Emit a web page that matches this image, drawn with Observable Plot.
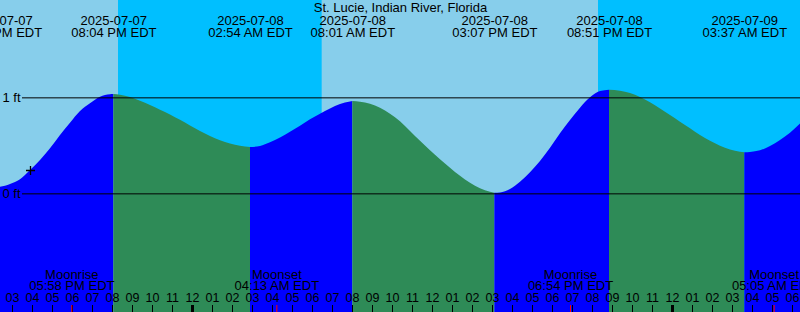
<!DOCTYPE html>
<html><head><meta charset="utf-8">
<script src="https://cdn.jsdelivr.net/npm/d3@7"></script>
<script src="https://cdn.jsdelivr.net/npm/@observablehq/plot@0.6"></script>
<style>html,body{margin:0;padding:0;background:#fff;overflow:hidden} #chart svg{display:block}</style>
</head><body><div id="chart"></div>
<script>
// ---- data (times are local EDT, stored without offset) ----
const title = "St. Lucie, Indian River, Florida";
const domainStart = "2025-07-07T14:24";
const domainEnd = "2025-07-09T06:24";

const sampleTimes = [
 "2025-07-07T14:24","2025-07-07T14:54","2025-07-07T15:24","2025-07-07T15:54","2025-07-07T16:24","2025-07-07T16:54",
 "2025-07-07T17:24","2025-07-07T17:54","2025-07-07T18:24","2025-07-07T18:54","2025-07-07T19:24","2025-07-07T19:54",
 "2025-07-07T20:24","2025-07-07T20:54","2025-07-07T21:24","2025-07-07T21:54","2025-07-07T22:24","2025-07-07T22:54",
 "2025-07-07T23:24","2025-07-07T23:54","2025-07-08T00:24","2025-07-08T00:54","2025-07-08T01:24","2025-07-08T01:54",
 "2025-07-08T02:24","2025-07-08T03:24","2025-07-08T03:54","2025-07-08T04:24","2025-07-08T04:54","2025-07-08T05:24",
 "2025-07-08T05:54","2025-07-08T06:24","2025-07-08T06:54","2025-07-08T07:24","2025-07-08T07:54","2025-07-08T08:24",
 "2025-07-08T08:54","2025-07-08T09:24","2025-07-08T09:54","2025-07-08T10:24","2025-07-08T10:54","2025-07-08T11:24",
 "2025-07-08T11:54","2025-07-08T12:24","2025-07-08T12:54","2025-07-08T13:24","2025-07-08T13:54","2025-07-08T14:24",
 "2025-07-08T14:54","2025-07-08T15:24","2025-07-08T15:54","2025-07-08T16:24","2025-07-08T16:54","2025-07-08T17:24",
 "2025-07-08T17:54","2025-07-08T18:24","2025-07-08T18:54","2025-07-08T19:24","2025-07-08T19:54","2025-07-08T20:24",
 "2025-07-08T21:24","2025-07-08T21:54","2025-07-08T22:24","2025-07-08T22:54","2025-07-08T23:24","2025-07-08T23:54",
 "2025-07-09T00:24","2025-07-09T00:54","2025-07-09T01:24","2025-07-09T01:54","2025-07-09T02:24","2025-07-09T02:54",
 "2025-07-09T03:24","2025-07-09T03:54","2025-07-09T04:24","2025-07-09T04:54","2025-07-09T05:24","2025-07-09T05:54",
 "2025-07-09T06:24"
];
const sampleFeet = [
 0.069,0.097,0.146,0.243,0.347,0.469,
 0.607,0.735,0.857,0.938,1.006,1.031,
 1.027,1.003,0.965,0.920,0.872,0.822,
 0.766,0.708,0.650,0.598,0.554,0.520,
 0.495,0.493,0.531,0.583,0.642,0.704,
 0.771,0.829,0.885,0.930,0.958,0.954,
 0.933,0.892,0.830,0.750,0.650,0.548,
 0.450,0.356,0.267,0.183,0.110,0.052,
 0.017,0.010,0.045,0.121,0.219,0.336,
 0.475,0.625,0.764,0.892,1.000,1.066,
 1.069,1.045,1.003,0.948,0.885,0.816,
 0.746,0.677,0.607,0.548,0.496,0.458,
 0.433,0.430,0.448,0.493,0.555,0.631,
 0.727
];

const extremeTimes = ["2025-07-07T14:21","2025-07-07T20:04","2025-07-08T02:54","2025-07-08T08:01","2025-07-08T15:07","2025-07-08T20:51","2025-07-09T03:37"];
const extremeFeet  = [0.068, 1.034, 0.482, 0.961, 0.006, 1.079, 0.427];
const extremeKinds = ["low","high","low","high","low","high","low"];
const extremeDates = ["2025-07-07","2025-07-07","2025-07-08","2025-07-08","2025-07-08","2025-07-08","2025-07-09"];
const extremeLabels = ["02:21 PM EDT","08:04 PM EDT","02:54 AM EDT","08:01 AM EDT","03:07 PM EDT","08:51 PM EDT","03:37 AM EDT"];

const nightStarts = ["2025-07-07T20:18","2025-07-08T20:18"];
const nightEnds   = ["2025-07-08T06:29","2025-07-09T06:30"];

const moonTimes  = ["2025-07-07T17:58","2025-07-08T04:13","2025-07-08T18:54","2025-07-09T05:05"];
const moonNames  = ["Moonrise","Moonset","Moonrise","Moonset"];
const moonLabels = ["05:58 PM EDT","04:13 AM EDT","06:54 PM EDT","05:05 AM EDT"];

const levelTicks = [0, 1];
const levelLabels = ["0 ft", "1 ft"];

const nowTime = "2025-07-07T15:54";
const nowFeet = 0.243;

// ---- build tables ----
const T = s => new Date(s + "Z");
const pts = sampleTimes.map((t, i) => ({t: T(t), h: sampleFeet[i]}));
const ext = extremeTimes.map((t, i) => ({t: T(t), h: extremeFeet[i], kind: extremeKinds[i], date: extremeDates[i], label: extremeLabels[i]}));
const segs = [];
ext.forEach((e, i) => {
  const next = ext[i + 1];
  const inner = pts.filter(p => p.t > e.t && (!next || p.t < next.t));
  const fill = e.kind === "low" ? "#0000FF" : "#2E8B57";
  [e, ...inner, ...(next ? [next] : [])].forEach(p => segs.push({t: p.t, h: p.h, seg: i, fill}));
});
const nights = nightStarts.map((s, i) => ({start: T(s), end: T(nightEnds[i])}));
const moons = moonTimes.map((t, i) => ({t: T(t), name: moonNames[i], label: moonLabels[i]}));
const hours = d3.utcHour.range(T("2025-07-07T14:00"), T("2025-07-09T07:00"));
const midnights = hours.filter(d => d.getUTCHours() === 0);
const plainHours = hours.filter(d => d.getUTCHours() !== 0);
const fmtHour = d3.utcFormat("%I");

const yBottom = -1.236, yTop = 2.014;

const crossSymbol = {
  draw(context, size) {
    const r = Math.sqrt(size / Math.PI);
    context.moveTo(-r, 0); context.lineTo(r, 0);
    context.moveTo(0, -r); context.lineTo(0, r);
  }
};

const chart = Plot.plot({
  width: 800, height: 312, margin: 0,
  x: {type: "utc", domain: [T(domainStart), T(domainEnd)], axis: null},
  y: {domain: [yBottom, yTop], axis: null},
  color: {type: "identity"},
  style: {fontFamily: "'Liberation Sans', Arial, sans-serif", fontSize: "13px", color: "black", background: "#87CEEB"},
  marks: [
    Plot.frame({fill: "#87CEEB", stroke: null}),
    Plot.rect(nights, {x1: "start", x2: "end", fill: "#00BFFF", clip: true}),
    Plot.areaY(segs, {x: "t", y1: yBottom, y2: "h", z: "seg", fill: "fill", curve: "monotone-x", clip: true}),
    Plot.ruleY(levelTicks, {insetLeft: 22, stroke: "black", strokeWidth: 1}),
    Plot.text(levelTicks, {y: d => d, text: (d, i) => levelLabels[i], frameAnchor: "left", textAnchor: "start", lineAnchor: "middle", dx: 2, fill: "black"}),
    Plot.text([title], {frameAnchor: "top", lineAnchor: "bottom", dy: 11.7, fill: "black"}),
    Plot.text(ext, {x: "t", text: "date", frameAnchor: "top", lineAnchor: "bottom", dy: 24.5, fill: "black"}),
    Plot.text(ext, {x: "t", text: "label", frameAnchor: "top", lineAnchor: "bottom", dy: 36.5, fill: "black"}),
    Plot.text(moons, {x: "t", text: "name", frameAnchor: "top", lineAnchor: "bottom", dy: 278, fill: "black"}),
    Plot.text(moons, {x: "t", text: "label", frameAnchor: "top", lineAnchor: "bottom", dy: 289, fill: "black"}),
    Plot.text(hours, {x: d => d, text: d => fmtHour(d), frameAnchor: "top", lineAnchor: "bottom", dy: 301.5, fontSize: 12.5, fill: "black"}),
    Plot.ruleX(plainHours, {x: d => d, insetTop: 305, stroke: "black", strokeWidth: 1}),
    Plot.ruleX(midnights, {x: d => d, insetTop: 305, stroke: "black", strokeWidth: 3}),
    Plot.ruleX(moons, {x: "t", insetTop: 305, stroke: "red", strokeWidth: 1}),
    Plot.dot([{t: T(nowTime), h: nowFeet}], {x: "t", y: "h", symbol: crossSymbol, r: 4.5, fill: "none", stroke: "black", strokeWidth: 1.3})
  ]
});
document.getElementById("chart").append(chart);
</script>
</body></html>
